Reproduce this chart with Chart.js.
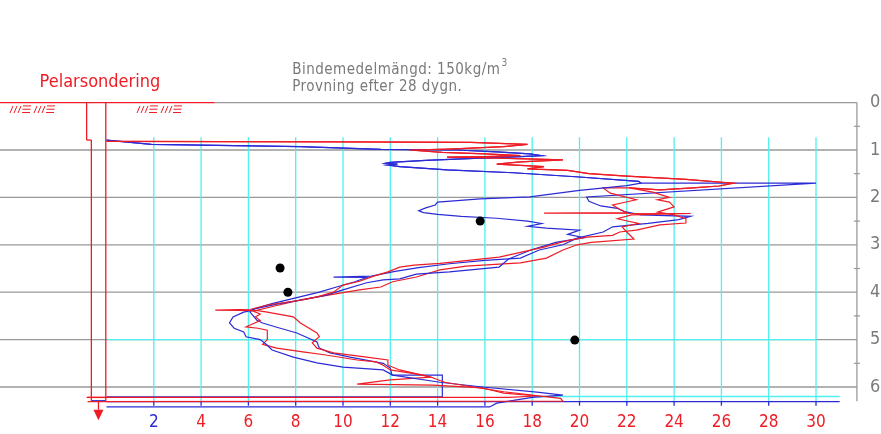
<!DOCTYPE html>
<html><head><meta charset="utf-8">
<script src="https://cdn.jsdelivr.net/npm/chart.js@4"></script>
<style>html,body{margin:0;padding:0;background:#fff}#wrap{width:881px;height:434px}</style>
</head><body><div id="wrap"><canvas id="c" width="881" height="434"></canvas></div>
<script>
// ---- data (value on x, depth in m on y) ----
const xTicks = [2,4,6,8,10,12,14,16,18,20,22,24,26,28,30];
const xTickLabels = ['2','4','6','8','10','12','14','16','18','20','22','24','26','28','30'];
const depthTicks = [0,1,2,3,4,5,6];
const depthLabels = ['0','1','2','3','4','5','6'];

const blueAValue = [0,1.9,8.2,11.6,14.8,16.5,17.9,18.4,17.5,15.8,13.5,12.0,11.8,12.3,11.9,12.4,14.4,17.2,20.0,22.5,22.6,22.0,20.0,17.9,15.8,14.0,13.9,13.5,13.2,13.4,14.0,15.0,16.5,17.8,18.4,17.8,18.6,20.0,19.5,20.2,19.0,18.0,17.0,16.6,14.5,13.1,12.4,11.7,11.0,10.0,9.3,8.4,7.2,6.3,6.0,5.8,5.35,5.2,5.4,5.8,5.9,6.5,6.8,7.0,7.9,8.9,10.0,11.7,12.1,14.1,15.9,18.2,19.3,18.0,16.5,16.2,0];
const blueADepth = [0.79,0.88,0.93,0.985,1.0,1.04,1.08,1.12,1.14,1.17,1.22,1.26,1.28,1.30,1.32,1.35,1.42,1.48,1.57,1.66,1.70,1.75,1.85,1.99,2.03,2.10,2.16,2.22,2.28,2.32,2.36,2.40,2.44,2.50,2.55,2.61,2.65,2.69,2.78,2.85,2.95,3.10,3.30,3.47,3.57,3.62,3.72,3.74,3.80,3.95,4.06,4.15,4.25,4.35,4.40,4.42,4.52,4.65,4.76,4.84,4.94,5.0,5.12,5.22,5.37,5.49,5.58,5.64,5.75,5.9,6.0,6.11,6.17,6.22,6.34,6.42,6.42];

const blueBValue = [0,1.9,8.2,11.6,14.8,16.5,17.9,18.4,17.5,15.8,13.5,12.0,11.8,12.3,11.9,12.4,14.4,17.2,20.0,22.5,22.6,30.0,20.3,20.4,20.9,21.6,21.9,22.6,24.7,24.2,22.9,21.4,21.0,19.9,19.3,18.3,17.5,16.0,14.5,13.2,12.2,11.2,9.6,11.0,10.5,9.8,9.0,8.0,7.0,6.2,6.07,6.36,6.6,7.2,8.05,8.9,9.0,9.45,10.3,11.7,12.0,12.07,14.2,14.2,0];
const blueBDepth = [0.79,0.88,0.93,0.985,1.0,1.04,1.08,1.12,1.14,1.17,1.22,1.26,1.28,1.30,1.32,1.35,1.42,1.48,1.57,1.66,1.70,1.70,1.99,2.08,2.18,2.23,2.30,2.37,2.40,2.47,2.55,2.62,2.73,2.86,3.0,3.11,3.28,3.33,3.40,3.48,3.56,3.66,3.68,3.69,3.78,3.88,4.0,4.12,4.24,4.36,4.42,4.59,4.65,4.74,4.86,5.05,5.18,5.28,5.37,5.5,5.6,5.75,5.75,6.21,6.21];

const redAValue = [0,10,15.4,17.8,16.8,14.5,12.8,14.2,16.0,17.5,16.0,14.4,15.8,19.3,17.5,16.5,18.5,17.8,19.5,20.4,22.0,24.5,26.5,25.9,24.8,23.4,22.1,23.1,23.8,23.3,23.8,24.0,23.3,24.0,24.5,24.5,23.4,22.4,21.7,21.4,20.3,19.6,19.2,18.5,17.6,16.6,14.1,13.0,12.4,11.9,11.3,10.7,10.0,9.6,8.9,8.2,6.8,6.1,4.6,6.4,6.8,7.9,8.2,8.9,9.0,8.7,8.9,9.6,11.0,11.9,11.9,12.4,13.7,14.3,15.5,16.8,18.0,19.2,19.3,-0.8];
const redADepth = [0.82,0.83,0.84,0.88,0.93,0.98,1.0,1.05,1.08,1.12,1.14,1.15,1.16,1.21,1.25,1.30,1.35,1.40,1.43,1.50,1.55,1.62,1.70,1.76,1.80,1.84,1.80,1.89,2.0,2.05,2.10,2.20,2.31,2.37,2.45,2.54,2.58,2.69,2.73,2.80,2.84,2.90,2.95,3.05,3.15,3.26,3.39,3.43,3.47,3.57,3.66,3.77,3.85,4.0,4.1,4.17,4.27,4.36,4.38,4.39,4.42,4.52,4.65,4.86,4.94,5.07,5.18,5.28,5.37,5.43,5.54,5.64,5.79,5.9,6.0,6.1,6.17,6.24,6.30,6.31];

const redBValue = [0,10,15.4,17.8,16.8,14.5,12.8,14.2,16.0,17.5,16.0,14.4,15.8,19.3,17.5,16.5,18.5,17.8,19.5,20.4,22.0,24.5,26.5,25.9,24.8,23.4,22.1,21.0,21.3,22.4,21.4,21.7,22.0,18.5,24.7,22.2,21.6,22.5,21.8,22.0,22.3,20.5,19.9,19.3,18.6,17.5,15.2,14.1,13.1,12.1,11.6,10.7,9.5,8.3,7.2,6.2,6.5,6.3,6.5,5.9,6.4,6.8,6.8,6.8,6.6,7.2,8.3,9.2,10.6,11.4,11.7,12.0,13.4,13.7,12.0,10.6,13.8,15.9,16.8,18.2,17.0,-0.8];
const redBDepth = [0.82,0.83,0.84,0.88,0.93,0.98,1.0,1.05,1.08,1.12,1.14,1.15,1.16,1.21,1.25,1.30,1.35,1.40,1.43,1.50,1.55,1.62,1.70,1.76,1.80,1.84,1.80,1.80,1.91,2.05,2.16,2.25,2.32,2.33,2.34,2.37,2.45,2.55,2.62,2.73,2.88,2.95,3.0,3.11,3.28,3.38,3.45,3.53,3.68,3.78,3.89,3.95,4.05,4.15,4.28,4.40,4.46,4.52,4.6,4.73,4.76,4.8,4.9,5.0,5.1,5.18,5.26,5.32,5.43,5.47,5.54,5.64,5.75,5.79,5.85,5.94,5.96,6.02,6.13,6.19,6.22,6.22];

const dotValue = [15.8, 7.34, 7.67, 19.8];
const dotDepth = [2.50, 3.49, 4.00, 5.01];

// ---- styling / layout ----
const RED = '#ee1c25', BLUE = '#2b2bd6', CYAN = '#4ff0f0', GREY = '#999999', TEXTGREY = '#7a7a7a';
const X_MIN = -4.503, X_MAX = 32.748, D_MIN = -2.1646, D_MAX = 6.9916;
const RIGHT_AXIS = 31.73, AXIS_DEPTH = 6.31;
const FONT = '"DejaVu Sans Condensed","Liberation Sans Narrow","DejaVu Sans",sans-serif';

const pts = (xs, ds) => xs.map((v, i) => ({x: v, y: ds[i]}));

const deco = {
  id: 'deco',
  beforeDatasetsDraw(chart) {
    const {ctx, scales: {x, y}} = chart;
    const X = v => x.getPixelForValue(v), Y = d => y.getPixelForValue(d);
    const line = (x1, y1, x2, y2, c, w) => {
      ctx.strokeStyle = c; ctx.lineWidth = w || 1.3;
      ctx.beginPath(); ctx.moveTo(X(x1), Y(y1)); ctx.lineTo(X(x2), Y(y2)); ctx.stroke();
    };
    ctx.save();
    depthTicks.forEach(d => {
      if (d === 0) { line(X_MIN, 0, 4.58, 0, RED); line(4.58, 0, RIGHT_AXIS, 0, GREY); }
      else line(X_MIN, d, RIGHT_AXIS, d, GREY);
    });
    xTicks.forEach(v => line(v, 0.73, v, AXIS_DEPTH, CYAN));
    line(0, 5, 30, 5, CYAN);
    line(18, 6.2, 31, 6.2, CYAN);
    line(RIGHT_AXIS, 0, RIGHT_AXIS, 6.3, GREY);
    ctx.strokeStyle = GREY; ctx.lineWidth = 1.2;
    depthTicks.slice(0, 6).forEach(d => {
      const py = Y(d + 0.5), px = X(RIGHT_AXIS);
      ctx.beginPath(); ctx.moveTo(px - 3, py); ctx.lineTo(px + 3, py); ctx.stroke();
    });
    line(0, AXIS_DEPTH, 31, AXIS_DEPTH, BLUE);
    ctx.strokeStyle = BLUE; ctx.lineWidth = 1.3;
    xTicks.forEach(v => {
      ctx.beginPath(); ctx.moveTo(X(v), Y(AXIS_DEPTH)); ctx.lineTo(X(v), Y(AXIS_DEPTH) + 4); ctx.stroke();
    });
    // pile sounding symbol
    line(-0.84, 0, -0.84, 0.79, RED);
    line(-0.84, 0.79, -0.64, 0.79, RED);
    line(-0.64, 0.79, -0.64, 6.29, RED);
    line(-0.03, 0, -0.03, 6.29, RED);
    line(-0.84, 6.22, -0.03, 6.22, RED);
    line(-0.64, 6.29, -0.03, 6.29, BLUE);
    ctx.restore();
  },
  afterDatasetsDraw(chart) {
    const {ctx, scales: {x, y}} = chart;
    const X = v => x.getPixelForValue(v), Y = d => y.getPixelForValue(d);
    ctx.save();
    // arrow
    const ax = X(-0.34);
    ctx.strokeStyle = RED; ctx.fillStyle = RED; ctx.lineWidth = 1.3;
    ctx.beginPath(); ctx.moveTo(ax, Y(6.29)); ctx.lineTo(ax, Y(6.48)); ctx.stroke();
    ctx.beginPath(); ctx.moveTo(ax - 5, Y(6.48)); ctx.lineTo(ax + 5, Y(6.48)); ctx.lineTo(ax, Y(6.70)); ctx.closePath(); ctx.fill();
    // ground hatch symbols
    ctx.lineWidth = 1;
    [-4.08, 1.29].forEach(s => {
      const yb = Y(0.22), yt = Y(0.07);
      for (let g = 0; g < 2; g++) {
        const gx = X(s) + g * 24;
        for (let k = 0; k < 3; k++) {
          ctx.beginPath(); ctx.moveTo(gx + k * 4, yb); ctx.lineTo(gx + k * 4 + 3, yt); ctx.stroke();
        }
        for (let k = 0; k < 3; k++) {
          const yy = yt + k * 3.3;
          ctx.beginPath(); ctx.moveTo(gx + 13 - k * 0.5, yy); ctx.lineTo(gx + 21 - k * 0.5, yy); ctx.stroke();
        }
      }
    });
    // bottom tick labels
    ctx.font = '17px ' + FONT; ctx.textAlign = 'center'; ctx.textBaseline = 'middle';
    xTicks.forEach((v, i) => {
      ctx.fillStyle = i === 0 ? BLUE : RED;
      ctx.fillText(xTickLabels[i], X(v), Y(6.745));
    });
    // right depth labels
    ctx.fillStyle = TEXTGREY; ctx.font = '18px ' + FONT;
    depthTicks.forEach((d, i) => ctx.fillText(depthLabels[i], X(32.5), Y(d)));
    // titles
    ctx.textAlign = 'left'; ctx.textBaseline = 'alphabetic';
    ctx.fillStyle = RED; ctx.font = '18px ' + FONT;
    ctx.fillText('Pelarsondering', X(-2.83), Y(-0.33));
    ctx.fillStyle = TEXTGREY; ctx.font = '15px ' + FONT;
    ctx.letterSpacing = '0.5px';
    const t1 = 'Bindemedelmängd: 150kg/m';
    ctx.fillText(t1, X(7.85), Y(-0.6));
    const w = ctx.measureText(t1).width;
    ctx.font = '10px ' + FONT;
    ctx.fillText('3', X(7.85) + w + 1, Y(-0.6) - 8);
    ctx.font = '15px ' + FONT;
    ctx.fillText('Provning efter 28 dygn.', X(7.85), Y(-0.24));
    ctx.restore();
  }
};

const lineDs = (label, xs, ds, color) => ({
  label, data: pts(xs, ds), showLine: true, borderColor: color, backgroundColor: color,
  borderWidth: 1.2, pointRadius: 0, tension: 0, fill: false
});

new Chart(document.getElementById('c'), {
  type: 'scatter',
  data: {
    datasets: [
      {label: 'Provpunkter', data: pts(dotValue, dotDepth), showLine: false, pointRadius: 4.5,
       pointBackgroundColor: '#000', pointBorderColor: '#000', pointBorderWidth: 0},
      lineDs('Röd A', redAValue, redADepth, RED),
      lineDs('Blå A', blueAValue, blueADepth, BLUE),
      lineDs('Röd B', redBValue, redBDepth, RED),
      lineDs('Blå B', blueBValue, blueBDepth, BLUE)
    ]
  },
  options: {
    responsive: false, animation: false, devicePixelRatio: 1,
    layout: {padding: 0, autoPadding: false},
    plugins: {legend: {display: false}, tooltip: {enabled: false}},
    scales: {
      x: {type: 'linear', min: X_MIN, max: X_MAX, display: false},
      y: {type: 'linear', min: D_MIN, max: D_MAX, reverse: true, display: false}
    }
  },
  plugins: [deco]
});
</script></body></html>
